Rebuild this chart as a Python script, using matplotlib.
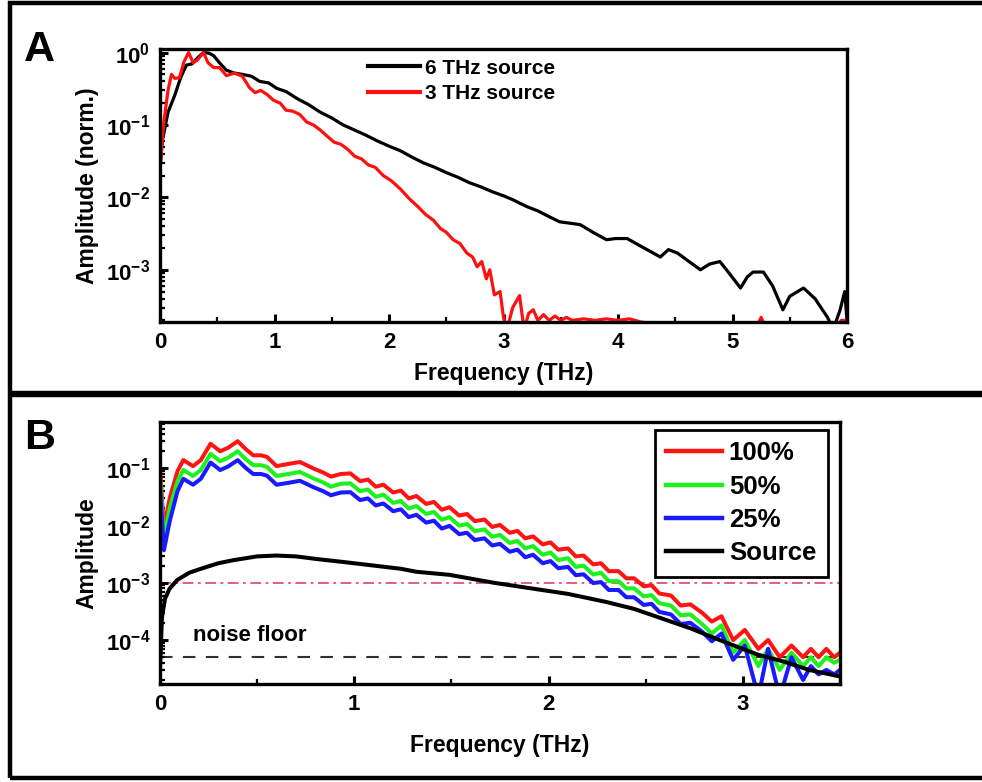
import matplotlib
matplotlib.use("Agg")
import matplotlib.pyplot as plt
from matplotlib.patches import Rectangle
from matplotlib.ticker import MultipleLocator, LogLocator, NullFormatter

# ---------------------------------------------------------------------------
# Panel A: normalised spectra of the two sources
# ---------------------------------------------------------------------------
freq_6thz = [0.00, 0.02, 0.07, 0.13, 0.18, 0.23, 0.28, 0.33, 0.38, 0.43, 0.47, 0.52,
             0.58, 0.65, 0.72, 0.80, 0.87, 0.95, 1.02, 1.10, 1.20, 1.30, 1.40, 1.50,
             1.60, 1.70, 1.80, 1.90, 2.00, 2.10, 2.20, 2.30, 2.40, 2.50, 2.60, 2.70,
             2.80, 2.90, 3.00, 3.08, 3.20, 3.30, 3.40, 3.49, 3.58, 3.67, 3.78, 3.90,
             3.98, 4.08, 4.18, 4.28, 4.37, 4.44, 4.52, 4.62, 4.72, 4.80, 4.89, 4.97,
             5.07, 5.13, 5.18, 5.27, 5.35, 5.44, 5.50, 5.62, 5.72, 5.83, 5.88, 5.94,
             5.98, 6.00]
amp_6thz = [0.025, 0.06, 0.15, 0.26, 0.45, 0.67, 0.70, 0.85, 1.0, 0.98, 0.90, 0.72,
            0.57, 0.52, 0.50, 0.47, 0.40, 0.38, 0.32, 0.29, 0.23, 0.19, 0.15, 0.125,
            0.10, 0.085, 0.072, 0.060, 0.051, 0.044, 0.036, 0.030, 0.026, 0.022, 0.019, 0.016,
            0.014, 0.012, 0.0105, 0.0093, 0.0075, 0.0065, 0.0054, 0.0046, 0.0044, 0.0042, 0.0033, 0.0026,
            0.0027, 0.0027, 0.0022, 0.0018, 0.0015, 0.0019, 0.0017, 0.0013, 0.0010, 0.0012, 0.0013, 0.0009,
            0.00056, 0.0008, 0.00093, 0.00093, 0.0006, 0.00028, 0.00043, 0.00056, 0.0004, 0.00022, 0.00015, 0.00028,
            0.0005, 0.0002]

freq_3thz = [0.00, 0.03, 0.07, 0.10, 0.13, 0.17, 0.21, 0.25, 0.29, 0.33, 0.38, 0.42,
             0.47, 0.52, 0.58, 0.65, 0.72, 0.78, 0.83, 0.88, 0.94, 0.99, 1.05, 1.10,
             1.16, 1.22, 1.28, 1.34, 1.40, 1.46, 1.52, 1.58, 1.64, 1.70, 1.76, 1.82,
             1.88, 1.95, 2.02, 2.10, 2.18, 2.25, 2.32, 2.39, 2.45, 2.50, 2.56, 2.62,
             2.68, 2.73, 2.77, 2.81, 2.85, 2.88, 2.92, 2.97, 3.00, 3.03, 3.08, 3.14,
             3.18, 3.22, 3.26, 3.30, 3.35, 3.40, 3.45, 3.50, 3.55, 3.60, 3.70, 3.80,
             3.90, 4.00, 4.10, 4.20, 4.30, 4.40, 5.20, 5.25, 5.30, 5.90, 5.95, 6.00]
amp_3thz = [0.024, 0.10, 0.30, 0.50, 0.44, 0.45, 0.75, 1.0, 0.72, 0.80, 1.0, 0.72,
            0.62, 0.62, 0.48, 0.52, 0.47, 0.33, 0.28, 0.30, 0.26, 0.22, 0.20, 0.16,
            0.155, 0.14, 0.11, 0.10, 0.085, 0.070, 0.058, 0.054, 0.046, 0.037, 0.034, 0.028,
            0.026, 0.020, 0.017, 0.013, 0.0095, 0.0075, 0.0058, 0.0048, 0.0037, 0.0033, 0.0026, 0.0023,
            0.0017, 0.0015, 0.0011, 0.0013, 0.00075, 0.0010, 0.00045, 0.0005, 0.00022, 0.00015, 0.0003, 0.00044,
            0.00015, 0.00025, 0.00028, 0.0002, 0.00024, 0.0002, 0.00023, 0.0002, 0.00022, 0.0002, 0.00021, 0.0002,
            0.00021, 0.0002, 0.00021, 0.00019, 0.00018, 0.00015, 0.00015, 0.00022, 0.00015, 0.00015, 0.0002, 0.0002]

# ---------------------------------------------------------------------------
# Panel B: detected amplitude at three source powers
# ---------------------------------------------------------------------------
freq_b = [0.00, 0.02, 0.05, 0.09, 0.12, 0.17, 0.21, 0.26, 0.31, 0.35, 0.40, 0.44,
          0.48, 0.52, 0.55, 0.60, 0.66, 0.72, 0.79, 0.84, 0.88, 0.93,
          0.98, 1.03, 1.07, 1.11, 1.15, 1.20, 1.24, 1.28, 1.32, 1.37, 1.41, 1.45,
          1.49, 1.54, 1.58, 1.62, 1.67, 1.71, 1.75, 1.80, 1.84, 1.88, 1.92, 1.97,
          2.01, 2.05, 2.10, 2.14, 2.18, 2.23, 2.27, 2.31, 2.36, 2.40, 2.44, 2.49,
          2.53, 2.57,
          2.63, 2.68, 2.73, 2.79, 2.84, 2.89, 2.95, 3.01, 3.08, 3.13, 3.19, 3.25,
          3.31, 3.35, 3.39, 3.43, 3.47, 3.50]
amp_100 = [0.10, 0.009, 0.03, 0.09, 0.14, 0.11, 0.14, 0.27, 0.20, 0.23, 0.30, 0.22,
           0.17, 0.17, 0.16, 0.11, 0.12, 0.13, 0.10, 0.085, 0.072, 0.08,
           0.082, 0.060, 0.064, 0.048, 0.052, 0.038, 0.041, 0.030, 0.033, 0.024, 0.026, 0.019,
           0.021, 0.015, 0.016, 0.012, 0.0128, 0.0095, 0.0103, 0.0075, 0.0081, 0.0060, 0.0065, 0.0047,
           0.0051, 0.0038, 0.0040, 0.0029, 0.0030, 0.0021, 0.0022, 0.0016, 0.0016, 0.0012, 0.0012, 0.00087,
           0.00091, 0.00065,
           0.00060, 0.00040, 0.00042, 0.00030, 0.00021, 0.00026, 0.00010, 0.00015, 0.00007, 0.00010, 0.00005, 0.00008,
           0.00005, 0.00007, 0.00005, 0.00007, 0.00005, 0.00006]
amp_50 = [0.07, 0.006, 0.02, 0.06, 0.094, 0.074, 0.094, 0.18, 0.134, 0.154, 0.20, 0.147,
          0.114, 0.114, 0.107, 0.074, 0.08, 0.087, 0.067, 0.057, 0.048, 0.054,
          0.055, 0.040, 0.043, 0.032, 0.035, 0.025, 0.027, 0.020, 0.022, 0.016, 0.0174, 0.0127,
          0.0141, 0.0100, 0.0107, 0.0080, 0.0086, 0.0064, 0.0069, 0.0050, 0.0054, 0.0040, 0.0044, 0.0031,
          0.0034, 0.0025, 0.0027, 0.0019, 0.0020, 0.0014, 0.0015, 0.00107, 0.00107, 0.0008, 0.0008, 0.00058,
          0.00061, 0.00044,
          0.00040, 0.00027, 0.00028, 0.00019, 0.00013, 0.00018, 0.00006, 0.00010, 0.000035, 0.00007, 0.00003, 0.00006,
          0.000035, 0.00005, 0.000035, 0.00005, 0.00004, 0.000045]
amp_25 = [0.05, 0.0037, 0.012, 0.04, 0.066, 0.052, 0.066, 0.127, 0.094, 0.108, 0.14, 0.103,
          0.08, 0.08, 0.075, 0.052, 0.056, 0.061, 0.047, 0.04, 0.034, 0.038,
          0.0385, 0.028, 0.030, 0.0226, 0.0244, 0.0179, 0.0193, 0.0141, 0.0155, 0.0113, 0.0122, 0.0089,
          0.0099, 0.0071, 0.0075, 0.0056, 0.0060, 0.0045, 0.0048, 0.0035, 0.0038, 0.0028, 0.0031, 0.0022,
          0.0024, 0.0018, 0.0019, 0.00136, 0.00141, 0.00099, 0.00103, 0.00075, 0.00075, 0.00056, 0.00056, 0.00041,
          0.00043, 0.00031,
          0.00028, 0.00019, 0.00020, 0.00014, 0.000095, 0.00013, 0.000045, 0.00008, 0.00001, 0.00007, 0.00001, 0.00005,
          0.00002, 0.000035, 0.000025, 0.00003, 0.000025, 0.00003]

freq_src = [0.00, 0.01, 0.026, 0.05, 0.09, 0.15, 0.21, 0.30, 0.38, 0.50, 0.60, 0.70,
            0.81, 0.95, 1.07, 1.24, 1.32, 1.49, 1.72, 2.10, 2.30, 2.44, 2.58, 2.73,
            2.90, 3.08, 3.21, 3.34, 3.50]
amp_src = [0.00003, 0.00025, 0.00053, 0.0008, 0.00113, 0.0015, 0.00176, 0.0022, 0.0025, 0.0029, 0.0030, 0.0029,
           0.0026, 0.0023, 0.00206, 0.00176, 0.00156, 0.00138, 0.0010, 0.00064, 0.00046, 0.00035, 0.00024, 0.00016,
           0.000094, 0.000055, 0.000042, 0.00003, 0.000023]

reference_level = 1e-3
noise_floor = 5e-5

# ---------------------------------------------------------------------------
# Styling
# ---------------------------------------------------------------------------
plt.rcParams['font.family'] = ['Liberation Sans', 'DejaVu Sans']
plt.rcParams['font.weight'] = 'bold'
plt.rcParams['axes.labelweight'] = 'bold'
plt.rcParams['mathtext.fontset'] = 'custom'
plt.rcParams['mathtext.rm'] = 'Liberation Sans:bold'
plt.rcParams['mathtext.bf'] = 'Liberation Sans:bold'
plt.rcParams['mathtext.it'] = 'Liberation Sans:bold'
plt.rcParams['mathtext.default'] = 'rm'

TICK_FS = 16
LABEL_FS = 16.5


def style_axes(ax, major_step):
    for side in ('left', 'bottom', 'top', 'right'):
        ax.spines[side].set_linewidth(2.4)
    ax.xaxis.set_major_locator(MultipleLocator(major_step))
    ax.xaxis.set_minor_locator(MultipleLocator(major_step / 2))
    ax.yaxis.set_major_locator(LogLocator(base=10, numticks=12))
    ax.yaxis.set_minor_locator(LogLocator(base=10, subs=range(2, 10), numticks=12))
    ax.yaxis.set_minor_formatter(NullFormatter())
    ax.tick_params(which='major', direction='in', length=6, width=2.2,
                   labelsize=TICK_FS, pad=7, top=False, right=False)
    ax.tick_params(which='minor', direction='in', length=3.5, width=1.6,
                   top=False, right=False)
    for lbl in ax.get_xticklabels() + ax.get_yticklabels():
        lbl.set_fontweight('bold')


fig = plt.figure(figsize=(9.82, 7.82), dpi=100)

# panel frames
fig.add_artist(Rectangle((10 / 982, 1 - 393 / 782), 1.0, 390 / 782,
                         transform=fig.transFigure, fill=False, lw=3.2, ec='black'))
fig.add_artist(Rectangle((10 / 982, 1 - 778 / 782), 1.0, 383 / 782,
                         transform=fig.transFigure, fill=False, lw=3.2, ec='black'))

# --- A ---------------------------------------------------------------------
ax_a = fig.add_axes([160 / 982, 1 - 322 / 782, 687 / 982, 273 / 782])
ax_a.semilogy(freq_6thz, amp_6thz, color='black', lw=2.3, label='6 THz source')
ax_a.semilogy(freq_3thz, amp_3thz, color='#ff1010', lw=2.3, label='3 THz source')
ax_a.set_xlim(0, 6)
ax_a.set_ylim(1.9e-4, 1.12)
style_axes(ax_a, 1)
ax_a.set_xlabel('Frequency (THz)', fontsize=LABEL_FS, labelpad=7)
ax_a.set_ylabel('Amplitude (norm.)', fontsize=LABEL_FS, labelpad=5)
leg_a = ax_a.legend(loc='upper left', bbox_to_anchor=(0.29, 0.995), frameon=False,
                    fontsize=15, handlelength=2.5, handletextpad=0.25,
                    labelspacing=0.3, borderaxespad=0)
for line in leg_a.get_lines():
    line.set_linewidth(3)

# --- B ---------------------------------------------------------------------
ax_b = fig.add_axes([160 / 982, 1 - 684 / 782, 680 / 982, 262 / 782])
ax_b.axhline(reference_level, color='#e2507a', lw=1.3, ls=(0, (6, 2.5, 1.5, 2.5)), zorder=1.5)
ax_b.axhline(noise_floor, color='#303030', lw=1.5, ls=(0, (6, 5)), zorder=1.5)
ax_b.semilogy(freq_b, amp_100, color='#ff1414', lw=2.9, label='100%')
ax_b.semilogy(freq_b, amp_50, color='#1ef01e', lw=2.9, label='50%')
ax_b.semilogy(freq_b, amp_25, color='#1a1aff', lw=2.9, label='25%')
ax_b.semilogy(freq_src, amp_src, color='black', lw=2.9, label='Source')
ax_b.set_xlim(0, 3.5)
ax_b.set_ylim(1.7e-5, 0.65)
style_axes(ax_b, 1)
ax_b.set_xlabel('Frequency (THz)', fontsize=LABEL_FS, labelpad=14)
ax_b.set_ylabel('Amplitude', fontsize=LABEL_FS, labelpad=5)
ax_b.text(0.17, 1.2e-4, 'noise floor', fontsize=16, fontweight='bold', va='center')
leg_b = ax_b.legend(loc='upper right', bbox_to_anchor=(0.982, 0.97), fontsize=18.5,
                    handlelength=2.15, handletextpad=0.28, labelspacing=0.36,
                    borderaxespad=0, borderpad=0.45, fancybox=False,
                    edgecolor='black', framealpha=1)
leg_b.get_frame().set_linewidth(2.0)
for line in leg_b.get_lines():
    line.set_linewidth(3.2)

# panel letters
fig.text(24 / 982, 1 - 50 / 782, 'A', fontsize=31, fontweight='bold', va='center')
fig.text(24 / 982, 1 - 438 / 782, 'B', fontsize=31, fontweight='bold', va='center')

fig.savefig('out.png', dpi=100)
